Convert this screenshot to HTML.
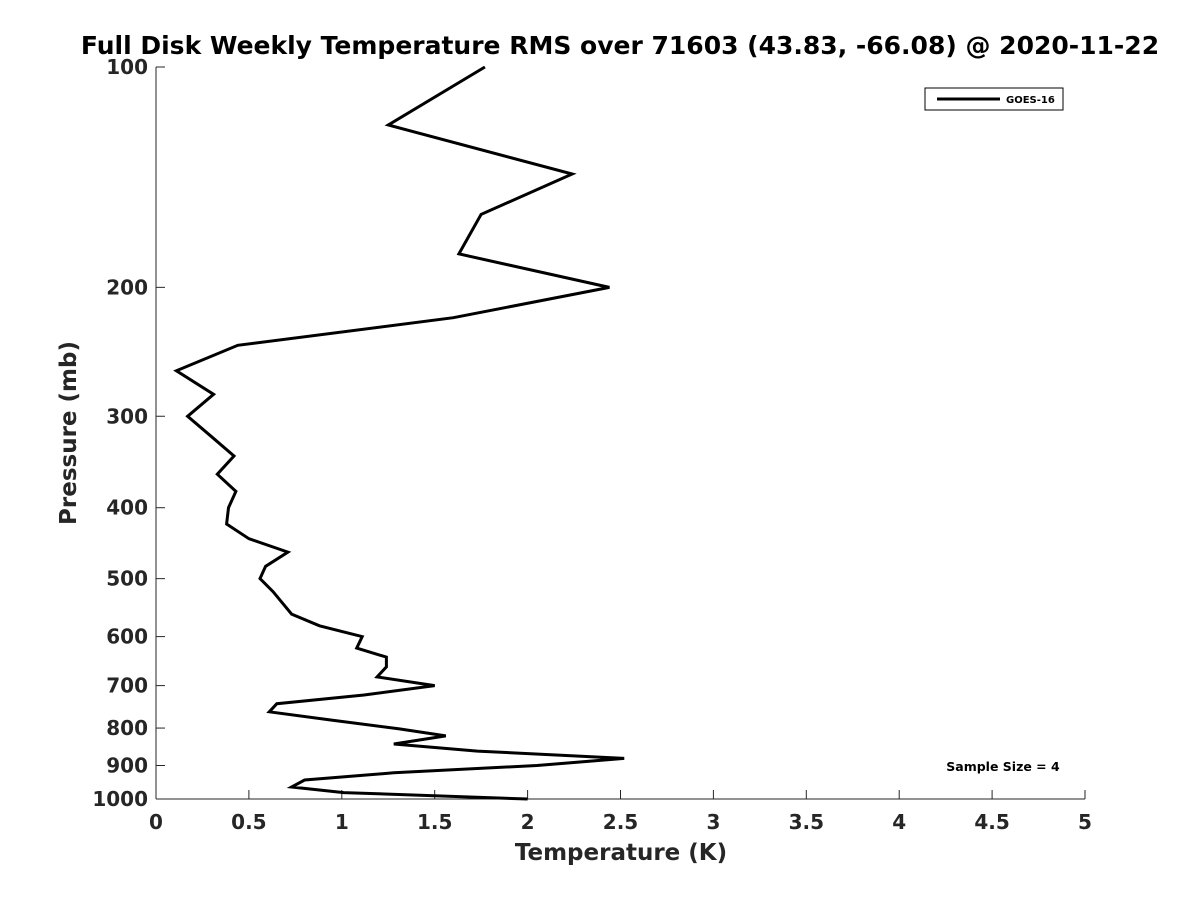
<!DOCTYPE html>
<html><head><meta charset="utf-8"><style>
body{margin:0;background:#fff;}
svg text{font-family:"DejaVu Sans","Liberation Sans",sans-serif;font-weight:bold;fill:#262626;}
</style></head><body>
<svg width="1200" height="900" xmlns="http://www.w3.org/2000/svg">
<rect width="1200" height="900" fill="#fff"/>
<text x="620" y="54" font-size="25" text-anchor="middle" style="fill:#000">Full Disk Weekly Temperature RMS over 71603 (43.83, -66.08) @ 2020-11-22</text>
<g id="axes"></g>
<polyline id="series" fill="none" stroke="#000" stroke-width="3" stroke-linejoin="miter"/>
<g>
<rect x="925" y="88" width="138" height="22" fill="#fff" stroke="#000" stroke-width="1"/>
<line x1="937" y1="99" x2="1000" y2="99" stroke="#000" stroke-width="3"/>
<text x="1006" y="103" font-size="10" style="fill:#000">GOES-16</text>
</g>
<text x="1003" y="771" font-size="12.5" text-anchor="middle" style="fill:#000">Sample Size = 4</text>
<text x="621" y="860" font-size="23" text-anchor="middle">Temperature (K)</text>
<text transform="translate(76,433) rotate(-90)" font-size="23" text-anchor="middle">Pressure (mb)</text>
</svg>
<script>
const pressures=[100,120,140,159,180,200,220,240,260,280,300,320,340,360,380,400,421,441,460,481,500,521,559,580,600,622,640,660,681,700,721,741,760,780,802,820,841,860,880,900,921,942,963,980,1000];
const temps=[1.77,1.25,2.24,1.75,1.63,2.44,1.60,0.44,0.11,0.31,0.17,0.30,0.42,0.33,0.43,0.39,0.38,0.50,0.71,0.59,0.56,0.63,0.73,0.88,1.11,1.08,1.24,1.24,1.19,1.50,1.12,0.65,0.61,0.94,1.31,1.56,1.28,1.73,2.52,2.05,1.28,0.80,0.73,1.01,2.0];
const xTicks=[0,0.5,1,1.5,2,2.5,3,3.5,4,4.5,5];
const yTicks=[100,200,300,400,500,600,700,800,900,1000];
const X0=156,X1=1085,Y0=67,Y1=799;
function xs(v){return X0+(v-0)/(5-0)*(X1-X0);}
function ys(p){return Y0+Math.log10(p/100)*(Y1-Y0);}
const ns="http://www.w3.org/2000/svg";
const g=document.getElementById('axes');
function mk(t,a){const e=document.createElementNS(ns,t);for(const k in a)e.setAttribute(k,a[k]);g.appendChild(e);return e;}
let ax=mk('line',{x1:X0,y1:Y1,x2:X1,y2:Y1,stroke:'#262626','stroke-width':1});


let ay=mk('line',{x1:X0,y1:Y0,x2:X0,y2:Y1,stroke:'#262626','stroke-width':1});


xTicks.forEach(v=>{const x=xs(v);
mk('line',{x1:x,y1:Y1,x2:x,y2:Y1-9,stroke:'#262626'});
const t=mk('text',{x:x,y:Y1+30,'font-size':20,'text-anchor':'middle'});t.textContent=String(v);

});
yTicks.forEach(p=>{const y=ys(p);
mk('line',{x1:X0,y1:y,x2:X0+9,y2:y,stroke:'#262626'});
const t=mk('text',{x:X0-8,y:y+7,'font-size':20,'text-anchor':'end'});t.textContent=String(p);

});
document.getElementById('series').setAttribute('points',pressures.map((p,i)=>xs(temps[i]).toFixed(1)+','+ys(p).toFixed(1)).join(' '));
</script>
</body></html>
